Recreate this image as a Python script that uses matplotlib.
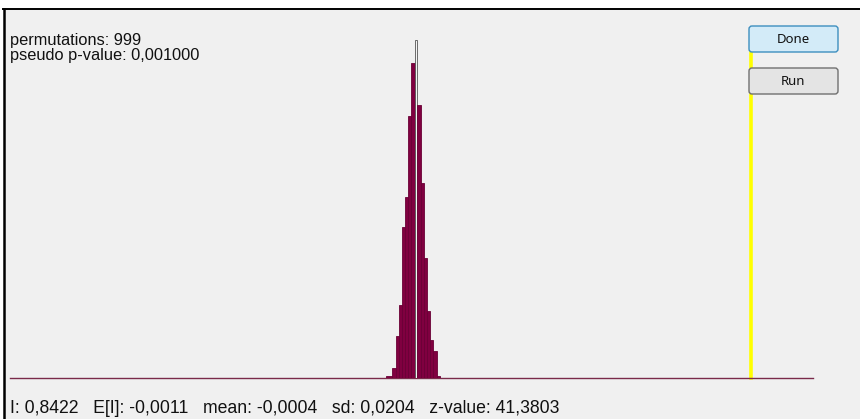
import matplotlib
matplotlib.use("Agg")
import matplotlib.pyplot as plt
from matplotlib.patches import Rectangle, FancyBboxPatch

# ---- data ----
bin_edges = [-0.0759, -0.0608, -0.0507, -0.0432, -0.0356, -0.0281, -0.0205, -0.0130,
             -0.0029, 0.0021, 0.0122, 0.0197, 0.0273, 0.0348, 0.0424, 0.0524, 0.0600]
counts = [1, 5, 20, 35, 72, 86, 125, 150, 161, 130, 93, 57, 32, 18, 13, 1]
highlight_bin = 8
observed_I = 0.8422
permutations = 999
pseudo_p = "0,001000"
stats_line = "I: 0,8422   E[I]: -0,0011   mean: -0,0004   sd: 0,0204   z-value: 41,3803"
buttons = ["Done", "Run"]

W, H = 860, 419
fig = plt.figure(figsize=(W / 100, H / 100), dpi=100)
fig.patch.set_facecolor("white")

# background / layout axes in pixel coordinates
bg = fig.add_axes([0, 0, 1, 1])
bg.set_xlim(0, W)
bg.set_ylim(H, 0)
bg.axis("off")
bg.add_patch(Rectangle((4, 9), W - 4, H - 9, facecolor="#f0f0f0", edgecolor="none", zorder=0))
bg.plot([3, W], [9.5, 9.5], color="black", lw=1.4, zorder=1)
bg.plot([4, 4], [9, H], color="black", lw=1.8, zorder=1)

# histogram axes
ax = fig.add_axes([10 / W, (H - 378) / H, (813 - 10) / W, (378 - 40) / H])
ax.set_xlim(-1.0215, 0.9981)
ax.set_ylim(0, max(counts))
ax.axis("off")
ax.patch.set_alpha(0)

lefts = bin_edges[:-1]
widths = [b - a for a, b in zip(bin_edges[:-1], bin_edges[1:])]
colors = ["#f4f4f4" if i == highlight_bin else "#800040" for i in range(len(counts))]
edges = ["#555555" if i == highlight_bin else "#6a0035" for i in range(len(counts))]
ax.bar(lefts, counts, width=widths, align="edge", color=colors, edgecolor=edges,
       linewidth=0.6, zorder=3)
ax.axhline(0, color="#7a2a4a", lw=1.0, zorder=2, clip_on=False)
ax.axvline(observed_I, ymin=0, ymax=1.03, color="#ffff00", lw=2.6, clip_on=False, zorder=1)

# overlay axes for text and buttons (drawn above the histogram)
ov = fig.add_axes([0, 0, 1, 1])
ov.set_xlim(0, W)
ov.set_ylim(H, 0)
ov.axis("off")
ov.patch.set_alpha(0)

fam = ["Liberation Sans", "DejaVu Sans"]
ov.text(10, 45, f"permutations: {permutations}", fontsize=11.8, family=fam,
        color="#111111", va="baseline", ha="left")
ov.text(10, 60, f"pseudo p-value: {pseudo_p}", fontsize=11.8, family=fam,
        color="#111111", va="baseline", ha="left")
ov.text(10, 413, stats_line, fontsize=12.7, family=fam, color="#111111",
        va="baseline", ha="left")

btn_specs = [(749, 26, 89, 26, "#d3ebf8", "#3d8fbf"), (749, 68, 89, 26, "#e4e4e4", "#707070")]
for (x, y, w, h, fc, ec), label in zip(btn_specs, buttons):
    ov.add_patch(FancyBboxPatch((x, y), w, h, boxstyle="round,pad=0,rounding_size=3",
                                facecolor=fc, edgecolor=ec, lw=1.0, zorder=5))
    ov.text(x + w / 2, y + h / 2 + 0.5, label, fontsize=9.5, family=["Noto Sans", "DejaVu Sans"],
            ha="center", va="center", color="#111111", zorder=6)

fig.savefig("out.png", dpi=100, facecolor=fig.get_facecolor())
